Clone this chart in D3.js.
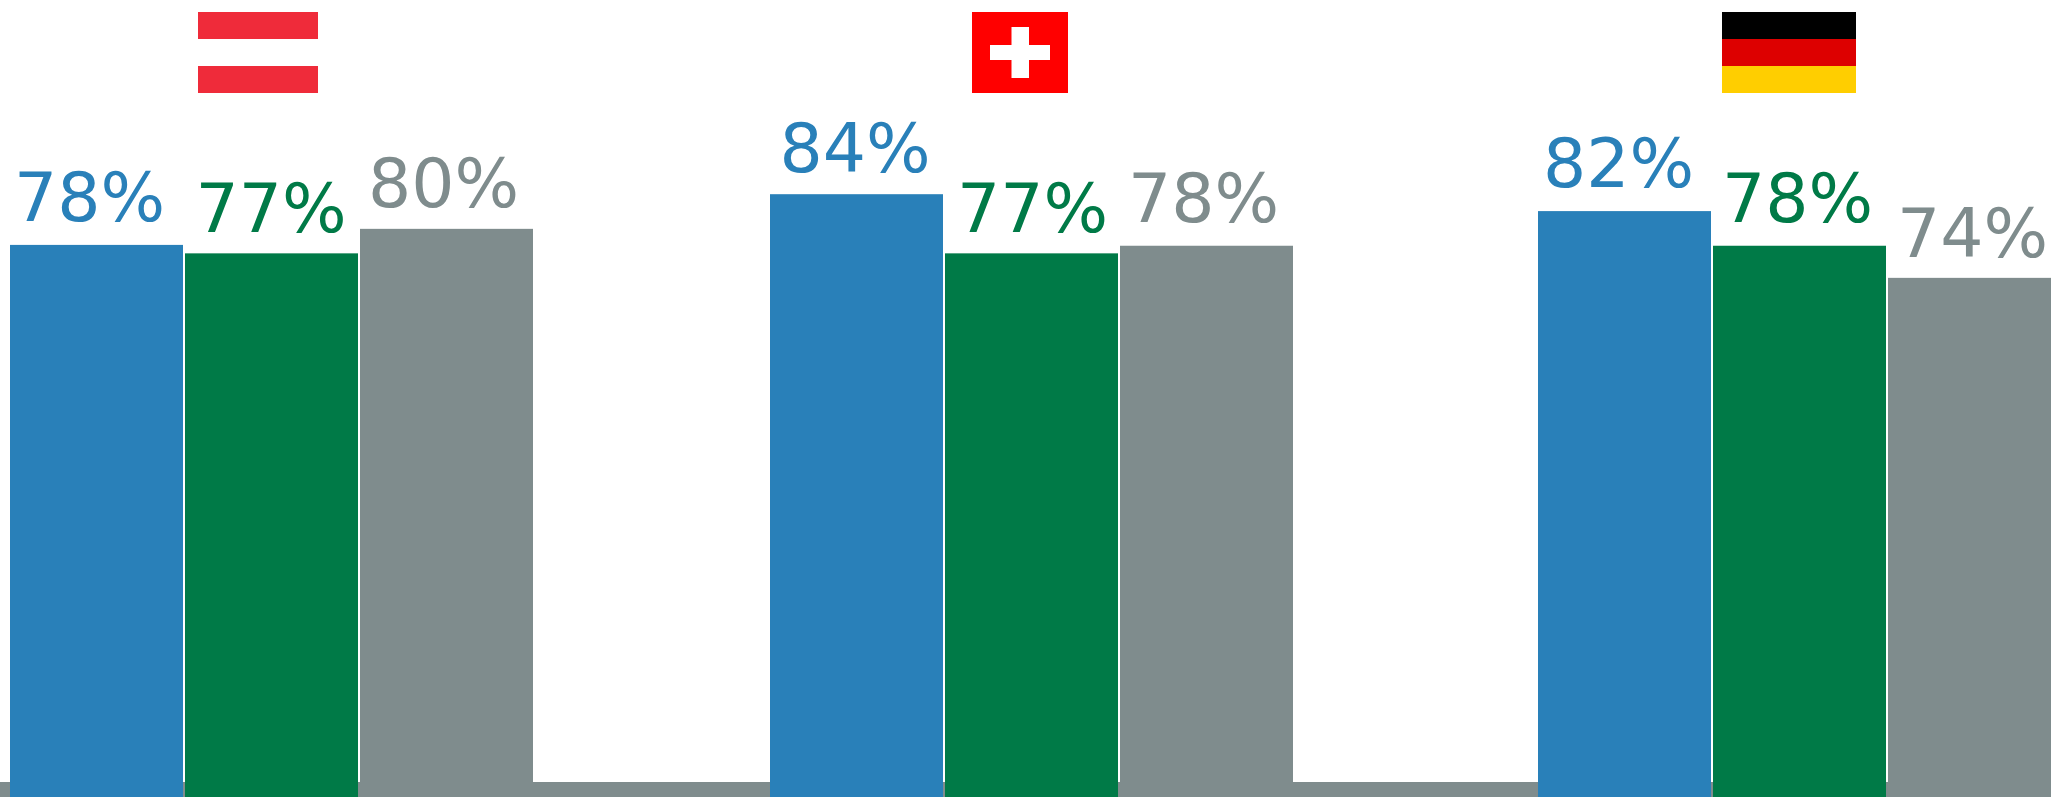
<!DOCTYPE html>
<html><head><meta charset="utf-8">
<style>html,body{margin:0;padding:0;background:#fff;overflow:hidden}svg{display:block}</style>
<script src="https://cdn.jsdelivr.net/npm/d3@7/dist/d3.min.js"></script></head>
<body><script>
const countries = ["Austria","Switzerland","Germany"];
const series = ["A","B","C"];
const austria = [78.0,77.0,79.9];
const switzerland = [84.0,77.0,77.9];
const germany = [82.0,77.9,74.1];
const labels = [["78%","77%","80%"],["84%","77%","78%"],["82%","78%","74%"]];
const seriesColors = ["#2980b9","#007a47","#7f8c8d"];
const rows = [austria,switzerland,germany];
const labelDx = [[4,10.5,8],[9.5,12,8],[5,9,9]];
const labelDy = [[-24,-21,-22],[-22,-21,-24],[-24.5,-24,-21]];

const W=2051,H=797;
const svg=d3.select("body").append("svg").attr("width",W).attr("height",H);
const y=d3.scaleLinear().domain([0,100]).range([904,59]);
const groupX=d3.scaleOrdinal().domain(countries).range([10,770,1538]);
const inner=d3.scaleBand().domain(series).range([0,525]);

svg.append("rect").attr("x",0).attr("y",782).attr("width",W).attr("height",15).attr("fill","#7f8c8d");

const g=svg.selectAll("g.group").data(countries).join("g").attr("class","group")
  .attr("transform",d=>`translate(${groupX(d)},0)`);
g.each(function(c,i){
  const s=d3.select(this);
  s.selectAll("rect").data(rows[i]).join("rect")
   .attr("x",(d,j)=>inner(series[j])).attr("width",inner.bandwidth()-2)
   .attr("y",d=>y(d)).attr("height",d=>y(0)-y(d))
   .attr("fill",(d,j)=>seriesColors[j]);
  s.selectAll("text").data(rows[i]).join("text")
   .attr("x",(d,j)=>inner(series[j])+labelDx[i][j])
   .attr("y",(d,j)=>y(d)+labelDy[i][j])
   .attr("font-family","DejaVu Sans").attr("font-size",68)
   .attr("fill",(d,j)=>seriesColors[j])
   .text((d,j)=>labels[i][j]);
});

// flags
const flag=svg.append("g");
const stripes=(x,w,cols)=>{
  const band=d3.scaleBand().domain(d3.range(3)).range([12,93]);
  flag.append("g").selectAll("rect").data(cols).join("rect")
   .attr("x",x).attr("width",w).attr("y",(d,i)=>band(i)).attr("height",band.bandwidth()).attr("fill",d=>d);
};
stripes(198,120,["#ef2b3a","#ffffff","#ef2b3a"]);
stripes(1722,134,["#000000","#dd0000","#ffce00"]);
flag.append("rect").attr("x",972).attr("y",12).attr("width",96).attr("height",81).attr("fill","#ff0000");
flag.append("rect").attr("x",990).attr("y",45).attr("width",60).attr("height",15).attr("fill","#fff");
flag.append("rect").attr("x",1011.5).attr("y",27).attr("width",17.5).attr("height",51).attr("fill","#fff");
</script></body></html>
